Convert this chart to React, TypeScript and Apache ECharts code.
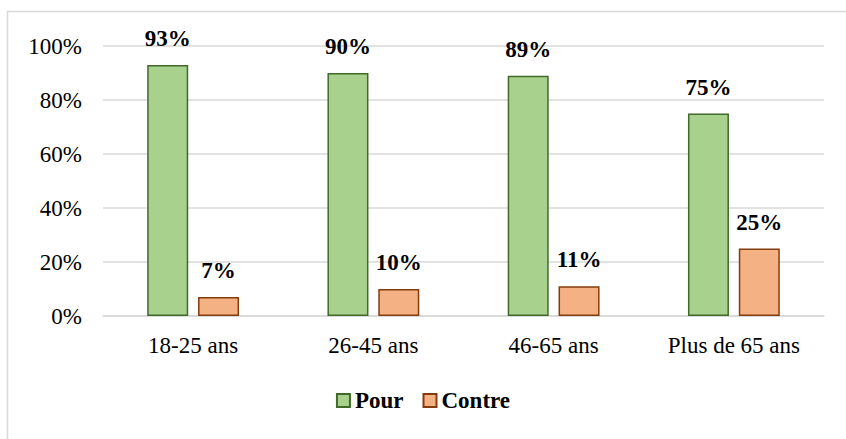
import React, { useEffect, useRef } from "react";
import * as echarts from "echarts";

const categories = ["18-25 ans", "26-45 ans", "46-65 ans", "Plus de 65 ans"];
const pourValues = [93, 90, 89, 75];
const contreValues = [7, 10, 11, 25];
const yTicks = { min: 0, max: 100, interval: 20 };

const FONT = "Liberation Serif";
const FS = 23;

export default function App() {
  const ref = useRef<HTMLDivElement>(null);
  useEffect(() => {
    if (!ref.current) return;
    const chart = echarts.init(ref.current, null, { renderer: "svg" });
    const labelStyle = {
      show: true,
      position: "top",
      distance: 15,
      formatter: "{c}%",
      fontFamily: FONT,
      fontSize: FS,
      fontWeight: "bold",
      color: "#000",
    };
    chart.setOption({
      animation: false,
      backgroundColor: "#ffffff",
      textStyle: { fontFamily: FONT },
      graphic: [
        {
          type: "rect",
          shape: { x: 7.5, y: 11.5, width: 900, height: 500 },
          style: { fill: "none", stroke: "#d9d9d9", lineWidth: 1.5 },
          silent: true,
        },
      ],
      grid: { left: 103, right: 22, top: 46, bottom: 123, containLabel: false },
      legend: {
        bottom: 22,
        left: "center",
        itemWidth: 13,
        itemHeight: 13,
        itemGap: 19,
        icon: "rect",
        textStyle: { fontFamily: FONT, fontSize: FS, fontWeight: "bold", color: "#000" },
        data: ["Pour", "Contre"],
      },
      xAxis: {
        type: "category",
        data: categories,
        axisLine: { lineStyle: { color: "#d9d9d9", width: 1.5 } },
        axisTick: { show: false },
        axisLabel: { fontFamily: FONT, fontSize: FS, color: "#000", margin: 18 },
      },
      yAxis: {
        type: "value",
        min: yTicks.min,
        max: yTicks.max,
        interval: yTicks.interval,
        axisLine: { show: false },
        axisTick: { show: false },
        splitLine: { lineStyle: { color: "#d9d9d9", width: 1.5 } },
        axisLabel: { fontFamily: FONT, fontSize: FS, color: "#000", margin: 21, formatter: "{value}%" },
      },
      series: [
        {
          name: "Pour",
          type: "bar",
          data: pourValues,
          barWidth: 41,
          barGap: "24%",
          itemStyle: { color: "#a9d18e", borderColor: "#41692a", borderWidth: 1.5 },
          label: labelStyle,
        },
        {
          name: "Contre",
          type: "bar",
          data: contreValues,
          barWidth: 41,
          itemStyle: { color: "#f4b183", borderColor: "#843c0c", borderWidth: 1.5 },
          label: labelStyle,
        },
      ],
    });
    return () => chart.dispose();
  }, []);
  return (
    <div
      ref={ref}
      style={{ position: "fixed", left: 0, top: 0, width: 846, height: 439 }}
    />
  );
}
